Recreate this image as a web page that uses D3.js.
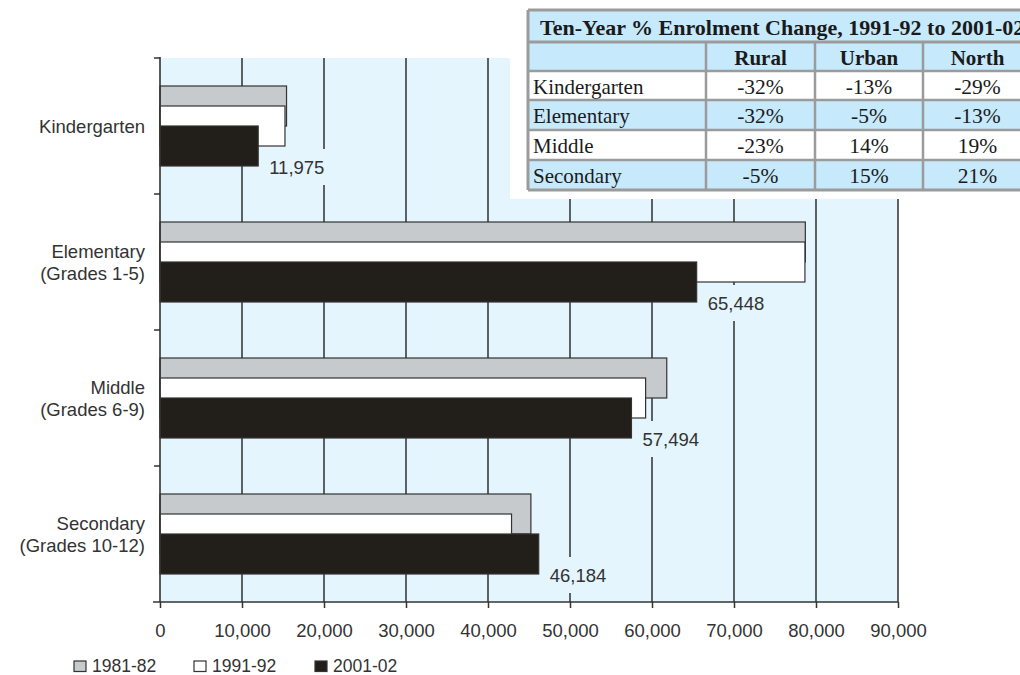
<!DOCTYPE html>
<html><head><meta charset="utf-8">
<script src="https://cdn.jsdelivr.net/npm/d3@7"></script>
<style>body{margin:0;background:#fff;} svg{display:block;}</style>
</head><body>
<svg id="chart" width="1020" height="675"></svg>
<script>
// ---- data ----
const categoryKeys = ["Kindergarten", "Elementary", "Middle", "Secondary"];
const categoryLines = [["Kindergarten"], ["Elementary", "(Grades 1-5)"], ["Middle", "(Grades 6-9)"], ["Secondary", "(Grades 10-12)"]];
const seriesNames = ["1981-82", "1991-92", "2001-02"];
const values1981 = [15430, 78700, 61800, 45230];
const values1991 = [15240, 78650, 59220, 42870];
const values2001 = [11975, 65448, 57494, 46184];
const xTicks = [0, 10000, 20000, 30000, 40000, 50000, 60000, 70000, 80000, 90000];

const tableTitle = "Ten-Year % Enrolment Change, 1991-92 to 2001-02";
const tableHeaders = ["", "Rural", "Urban", "North"];
const tableRowNames = ["Kindergarten", "Elementary", "Middle", "Secondary"];
const ruralChange = ["-32%", "-32%", "-23%", "-5%"];
const urbanChange = ["-13%", "-5%", "14%", "15%"];
const northChange = ["-29%", "-13%", "19%", "21%"];

// ---- setup ----
const svg = d3.select("#chart");
const sans = "'Liberation Sans', Arial, sans-serif";
const serif = "'Liberation Serif', 'Times New Roman', serif";
const seriesValues = [values1981, values1991, values2001];
const seriesFill = ["#c6cacc", "#ffffff", "#221e1a"];
const plotBg = "#e4f5fd";
const ink = "#333";
const fs = 18.5;

const x = d3.scaleLinear().domain([0, 90000]).range([160, 898]);
const y = d3.scaleBand().domain(categoryKeys).range([58, 602]).padding(0);
const sub = d3.scalePoint().domain(seriesNames).range([-20, 20]);
const barH = 40;

// plot background
svg.append("rect").attr("x", x(0)).attr("y", 58).attr("width", x(90000) - x(0)).attr("height", 602 - 58).attr("fill", plotBg);

// gridlines
svg.append("g").selectAll("line").data(xTicks.slice(1)).join("line")
  .attr("x1", d => x(d)).attr("x2", d => x(d)).attr("y1", 58).attr("y2", 602)
  .attr("stroke", "#222").attr("stroke-width", 1.4);

// white box behind the table
svg.append("rect").attr("x", 510).attr("y", 0).attr("width", 510).attr("height", 199).attr("fill", "#fff");

// value labels for 2001-02 (with background boxes)
const fmt = d3.format(",");
const lblG = svg.append("g");
categoryKeys.forEach((c, i) => {
  const v = values2001[i];
  const cy = y(c) + y.bandwidth() / 2 + sub("2001-02") + barH / 2 + 1;
  const tx = x(v) + 11;
  const t = lblG.append("text").attr("x", tx).attr("y", cy).attr("dominant-baseline", "central")
    .attr("font-family", sans).attr("font-size", fs).attr("fill", ink).text(fmt(v));
  const w = t.node().getComputedTextLength();
  lblG.insert("rect", "text").attr("x", tx - 4).attr("y", cy - 18).attr("width", w + 8).attr("height", 36).attr("fill", plotBg);
});

// bars
seriesNames.forEach((s, si) => {
  svg.append("g").selectAll("rect").data(categoryKeys).join("rect")
    .attr("x", x(0))
    .attr("y", c => y(c) + y.bandwidth() / 2 + sub(s) - barH / 2)
    .attr("width", (c, i) => x(seriesValues[si][i]) - x(0))
    .attr("height", barH)
    .attr("fill", seriesFill[si]).attr("stroke", "#333").attr("stroke-width", 1.2);
});

// x axis
const xAxis = svg.append("g").attr("transform", "translate(0,602)")
  .call(d3.axisBottom(x).tickValues(xTicks).tickSize(6).tickFormat(fmt));
xAxis.select(".domain").remove();
xAxis.selectAll(".tick line").attr("stroke", ink).attr("stroke-width", 1.5);
xAxis.selectAll(".tick text").attr("y", 28).attr("dy", null).attr("dominant-baseline", "central")
  .attr("font-family", sans).attr("font-size", fs).attr("fill", ink);
svg.append("line").attr("x1", 153).attr("x2", x(90000)).attr("y1", 602).attr("y2", 602).attr("stroke", ink).attr("stroke-width", 1.6);

// y axis
svg.append("line").attr("x1", 160).attr("x2", 160).attr("y1", 57).attr("y2", 602).attr("stroke", ink).attr("stroke-width", 1.6);
svg.append("g").selectAll("line").data(categoryKeys).join("line")
  .attr("x1", 154).attr("x2", 160).attr("y1", c => y(c)).attr("y2", c => y(c))
  .attr("stroke", ink).attr("stroke-width", 1.5);

// category labels
categoryKeys.forEach((c, i) => {
  const lines = categoryLines[i];
  const cy = y(c) + y.bandwidth() / 2;
  const lh = 22;
  lines.forEach((ln, li) => {
    svg.append("text").attr("x", 145).attr("y", cy + (li - (lines.length - 1) / 2) * lh)
      .attr("text-anchor", "end").attr("dominant-baseline", "central")
      .attr("font-family", sans).attr("font-size", fs).attr("fill", ink).text(ln);
  });
});

// legend
const legX = [74, 194, 315];
seriesNames.forEach((s, i) => {
  svg.append("rect").attr("x", legX[i]).attr("y", 661).attr("width", 12).attr("height", 10.5)
    .attr("fill", seriesFill[i]).attr("stroke", "#333").attr("stroke-width", 1.2);
  svg.append("text").attr("x", legX[i] + 18).attr("y", 666).attr("dominant-baseline", "central")
    .attr("font-family", sans).attr("font-size", 17.5).attr("fill", ink).text(s);
});

// table
const colX = [528, 706, 815, 923, 1032];
const rowY = [10, 42, 71, 100, 130, 160, 190];
const blue = "#c6e9fb";
const border = "#9b9b9b";
const tg = svg.append("g");
// title row
tg.append("rect").attr("x", colX[0]).attr("y", rowY[0]).attr("width", colX[4] - colX[0]).attr("height", rowY[1] - rowY[0]).attr("fill", blue);
tg.append("text").attr("x", 540).attr("y", (rowY[0] + rowY[1]) / 2 + 1).attr("dominant-baseline", "central")
  .attr("font-family", serif).attr("font-weight", "bold").attr("font-size", 22).attr("fill", "#1a1a1a").text(tableTitle);
// header row
tg.append("rect").attr("x", colX[0]).attr("y", rowY[1]).attr("width", colX[4] - colX[0]).attr("height", rowY[2] - rowY[1]).attr("fill", blue);
tableHeaders.forEach((h, j) => {
  if (!h) return;
  tg.append("text").attr("x", (colX[j] + colX[j + 1]) / 2).attr("y", (rowY[1] + rowY[2]) / 2 + 1)
    .attr("text-anchor", "middle").attr("dominant-baseline", "central")
    .attr("font-family", serif).attr("font-weight", "bold").attr("font-size", 21).attr("fill", "#1a1a1a").text(h);
});
// body rows
const cols = [ruralChange, urbanChange, northChange];
tableRowNames.forEach((r, i) => {
  const y0 = rowY[i + 2], y1 = rowY[i + 3];
  tg.append("rect").attr("x", colX[0]).attr("y", y0).attr("width", colX[4] - colX[0]).attr("height", y1 - y0)
    .attr("fill", i % 2 === 1 ? blue : "#fff");
  tg.append("text").attr("x", 533).attr("y", (y0 + y1) / 2 + 1).attr("dominant-baseline", "central")
    .attr("font-family", serif).attr("font-size", 21).attr("fill", "#1a1a1a").text(r);
  cols.forEach((col, j) => {
    tg.append("text").attr("x", (colX[j + 1] + colX[j + 2]) / 2).attr("y", (y0 + y1) / 2 + 1)
      .attr("text-anchor", "middle").attr("dominant-baseline", "central")
      .attr("font-family", serif).attr("font-size", 21.5).attr("fill", "#1a1a1a").text(col[i]);
  });
});
// borders
rowY.forEach((ry, k) => {
  tg.append("line").attr("x1", colX[0]).attr("x2", colX[4]).attr("y1", ry).attr("y2", ry)
    .attr("stroke", border).attr("stroke-width", k === 1 || k === 0 || k === rowY.length - 1 ? 3 : 2.5);
});
colX.forEach((cx, j) => {
  tg.append("line").attr("x1", cx).attr("x2", cx).attr("y1", j === 0 || j === 4 ? rowY[0] : rowY[1]).attr("y2", rowY[rowY.length - 1])
    .attr("stroke", border).attr("stroke-width", j === 0 ? 3 : 2.5);
});
</script>
</body></html>
